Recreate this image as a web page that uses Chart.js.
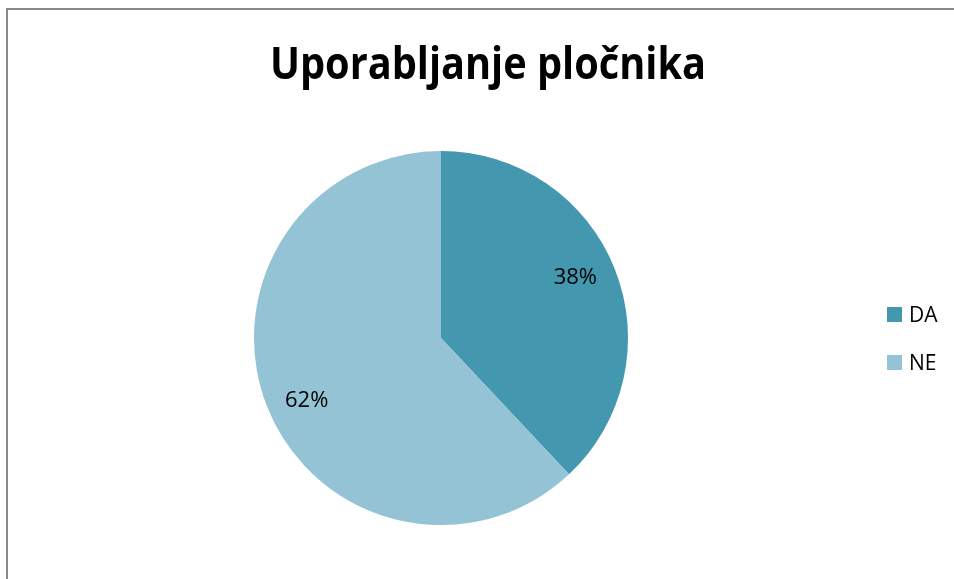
<!DOCTYPE html>
<html>
<head>
<meta charset="utf-8">
<script src="https://cdn.jsdelivr.net/npm/chart.js@4"></script>
<style>
  html, body { margin: 0; padding: 0; background: #fff; }
  #wrap { width: 954px; height: 579px; position: relative; }
</style>
</head>
<body>
<div id="wrap"><canvas id="pieChart"></canvas></div>
<script>
const TITLE = "Uporabljanje pločnika";
const categories = ["DA", "NE"];
const shares = [38, 62];
const colors = ["#4398B0", "#93C3D5"];

// frame, title, percentage labels and legend drawn on the canvas
const decorPlugin = {
  id: "decor",
  beforeDraw(chart) {
    const ctx = chart.ctx;
    ctx.save();
    ctx.strokeStyle = "#888888";
    ctx.lineWidth = 2;
    ctx.beginPath();
    ctx.moveTo(7, 600);
    ctx.lineTo(7, 9);
    ctx.lineTo(980, 9);
    ctx.stroke();
    ctx.restore();
  },
  afterDraw(chart) {
    const ctx = chart.ctx;
    ctx.save();
    ctx.fillStyle = "#000";
    ctx.textAlign = "center";
    ctx.textBaseline = "alphabetic";
    ctx.font = "bold 44px 'Open Sans', sans-serif";
    ctx.fillText(TITLE, 488, 79, 436);

    // percentage labels
    const meta = chart.getDatasetMeta(0);
    ctx.font = "22px 'Open Sans', sans-serif";
    ctx.textBaseline = "middle";
    meta.data.forEach(function (arc, i) {
      const mid = (arc.startAngle + arc.endAngle) / 2 - 3 * Math.PI / 180;
      const r = arc.outerRadius * 0.79;
      const x = arc.x + Math.cos(mid) * r;
      const y = arc.y + Math.sin(mid) * r;
      ctx.fillText(shares[i] + "%", x, y + 1, 45);
    });

    // legend
    ctx.textAlign = "left";
    ctx.font = "21px 'Open Sans', sans-serif";
    categories.forEach(function (name, i) {
      const y = 314.5 + i * 48;
      ctx.fillStyle = colors[i];
      ctx.fillRect(887, y - 7.5, 15, 15);
      ctx.fillStyle = "#000";
      ctx.fillText(name, 909, y + 1.5, 31);
    });
    ctx.restore();
  }
};

window.onload = function () {
  const ctx = document.getElementById("pieChart").getContext("2d");
  new Chart(ctx, {
    type: "pie",
    data: {
      labels: categories,
      datasets: [{
        data: shares,
        backgroundColor: colors,
        borderWidth: 0
      }]
    },
    options: {
      responsive: true,
      maintainAspectRatio: false,
      animation: false,
      layout: { padding: { left: 254, right: 326, top: 151, bottom: 54 } },
      plugins: {
        legend: { display: false },
        title: { display: false },
        tooltip: { enabled: false }
      }
    },
    plugins: [decorPlugin]
  });
};
</script>
</body>
</html>
